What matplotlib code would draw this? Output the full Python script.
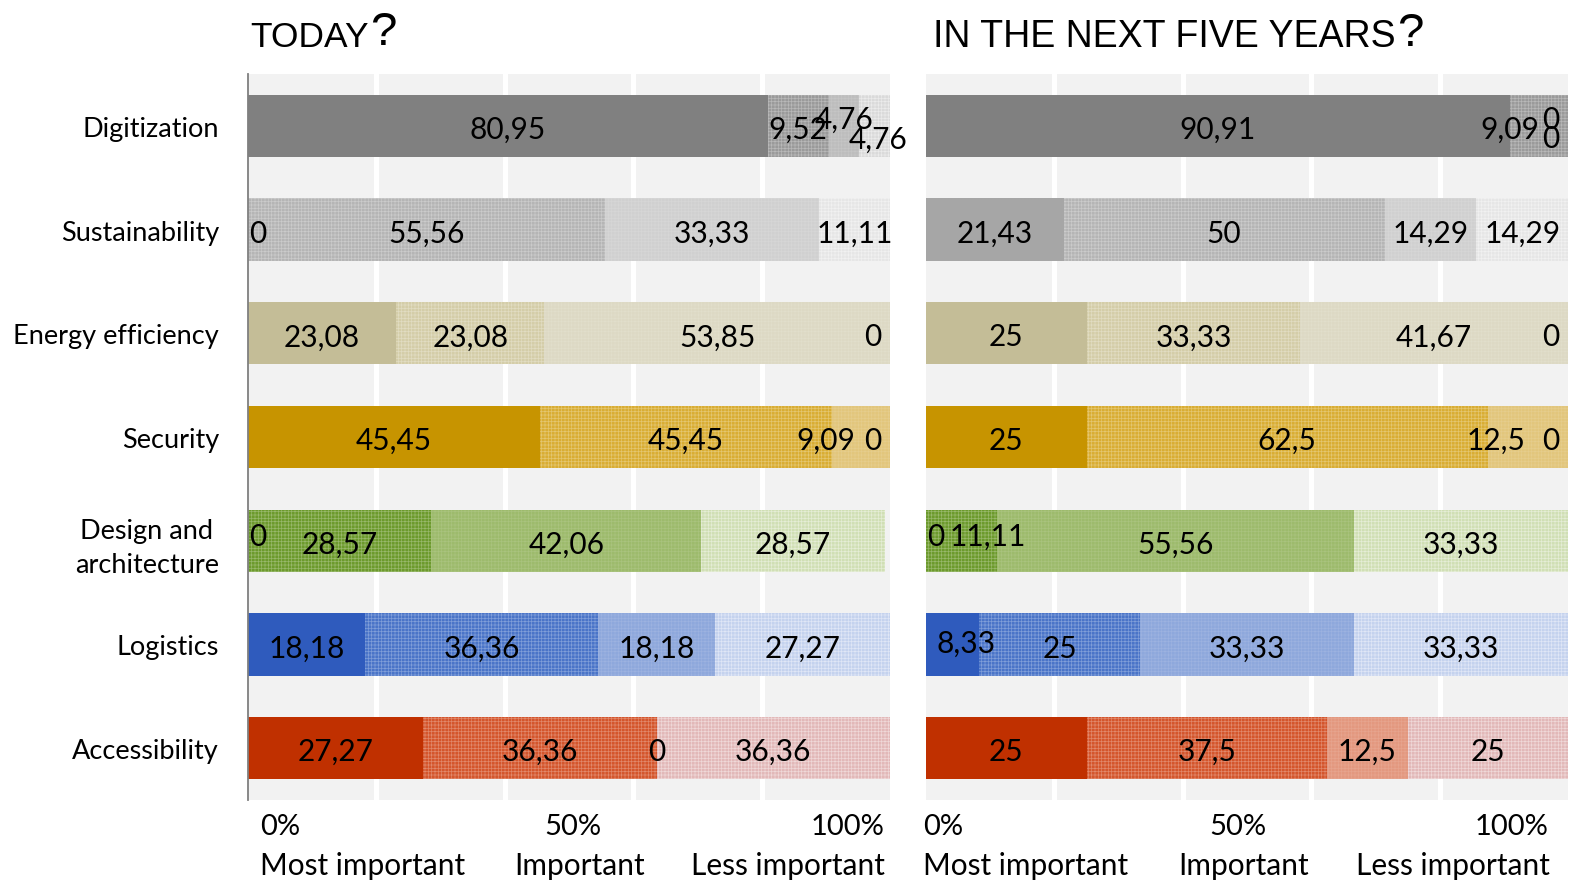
import matplotlib
matplotlib.use("Agg")
import matplotlib.pyplot as plt
import matplotlib.colors as mcolors
from matplotlib.transforms import blended_transform_factory

plt.rcParams['font.family'] = ['Lato', 'DejaVu Sans']
plt.rcParams['hatch.linewidth'] = 0.5

# ---------------- data ----------------
categories = ['Digitization', 'Sustainability', 'Energy efficiency', 'Security',
              'Design and\narchitecture', 'Logistics', 'Accessibility']

today_most      = [80.95, 0, 23.08, 45.45, 0, 18.18, 27.27]
today_important = [9.52, 55.56, 23.08, 45.45, 28.57, 36.36, 36.36]
today_third     = [4.76, 33.33, 53.85, 9.09, 42.06, 18.18, 0]
today_less      = [4.76, 11.11, 0, 0, 28.57, 27.27, 36.36]

future_most      = [90.91, 21.43, 25, 25, 0, 8.33, 25]
future_important = [9.09, 50, 33.33, 62.5, 11.11, 25, 37.5]
future_third     = [0, 14.29, 41.67, 12.5, 55.56, 33.33, 12.5]
future_less      = [0, 14.29, 0, 0, 33.33, 33.33, 25]

tick_pct = ['0%', '50%', '100%']
tick_names = ['Most important', 'Important', 'Less important']
titles = ['TODAY', 'IN THE NEXT FIVE YEARS']

# colours per category: 4 shades (segment 1..4)
palette = [
    ['#808080', '#9a9a9a', '#bdbdbd', '#dadada'],   # Digitization
    ['#a6a6a6', '#b5b5b5', '#d0d0d0', '#e6e6e6'],   # Sustainability
    ['#c4bd97', '#d4cda8', '#ddd9c4', '#e6e2d0'],   # Energy efficiency
    ['#c79400', '#d9ad33', '#e2c67c', '#e4cb85'],   # Security
    ['#4f7a1f', '#6c9a2c', '#9dbb6c', '#d0dfb4'],   # Design
    ['#2f5bbd', '#4a74c8', '#8ea8dc', '#c4d2ee'],   # Logistics
    ['#c03000', '#d4552b', '#e3987f', '#e2b8b8'],   # Accessibility
]
hatches = [None, '+++++', '+++++', '+++++']
hatch_blend = [0.0, 0.3, 0.12, 0.45]


def blend(c, amount):
    r, g, b = mcolors.to_rgb(c)
    return (r + (1 - r) * amount, g + (1 - g) * amount, b + (1 - b) * amount)


def fmt(v):
    s = ('%.2f' % v).rstrip('0').rstrip('.')
    return s.replace('.', ',')


# label tweaks (dx in %, dy in bar units) -- styling only
tweaks_today = {(0, 2): (0, -0.10), (0, 3): (0.5, 0.09),
                (3, 2): (-5.4, 0), (4, 0): (0, -0.08)}
tweaks_future = {(0, 1): (-4.5, 0), (0, 2): (0, -0.10), (0, 3): (0, 0.09),
                 (3, 2): (-5.0, 0), (4, 0): (0, -0.08), (4, 1): (4.0, -0.08),
                 (5, 0): (2.0, -0.05)}

W, H = 1576, 887
fig = plt.figure(figsize=(W / 100, H / 100), dpi=100)

ax_bottom = 1 - 801 / H
ax_height = 726 / H
axL = fig.add_axes([248 / W, ax_bottom, 642 / W, ax_height])
axR = fig.add_axes([926 / W, ax_bottom, 642 / W, ax_height])

panels = [
    (axL, [today_most, today_important, today_third, today_less], tweaks_today),
    (axR, [future_most, future_important, future_third, future_less], tweaks_future),
]

for ax, series, tweaks in panels:
    ax.set_facecolor('#f2f2f2')
    ax.set_xlim(0, 100)
    ax.set_ylim(len(categories) - 0.5, -0.5)
    ax.set_xticks([20, 40, 60, 80])
    ax.set_axisbelow(True)
    ax.xaxis.grid(True, color='white', lw=3.6)
    ax.tick_params(axis='x', length=0, labelbottom=False)
    for s in ['top', 'right', 'bottom']:
        ax.spines[s].set_visible(False)

    for i in range(len(categories)):
        left = 0.0
        for k, vals in enumerate(series):
            v = vals[i]
            base = palette[i][k]
            h = hatches[k]
            if i == 4 and k == 0:
                h = '+++++'
            ax.barh(i, v, left=left, height=0.6, color=base,
                    edgecolor=blend(base, hatch_blend[k]) if h else base,
                    hatch=h, lw=0, zorder=2)
            # label
            if v == 0 and left == 0:
                x, ha = 0.2, 'left'
            elif v == 0 and left >= 99.5:
                x, ha = 98.6, 'right'
            else:
                x, ha = left + v / 2, 'center'
            dx, dy = tweaks.get((i, k), (0, 0))
            ax.text(x + dx, i + dy + 0.03, fmt(v), ha=ha, va='center',
                    fontsize=21.5, color='black', zorder=5)
            left += v

axL.spines['left'].set_color('#7f7f7f')
axL.spines['left'].set_linewidth(1.3)
axR.spines['left'].set_visible(False)

axL.set_yticks(range(len(categories)))
axL.set_yticklabels(categories, fontsize=19.5, multialignment='center',
                    linespacing=1.45)
axL.tick_params(axis='y', length=0, pad=21)
axR.set_yticks([])
axR.tick_params(axis='y', length=0)

# bottom tick texts
y1 = 1 - 827 / H
y2 = 1 - 866 / H
pos_pct = {axL: [(0.019, 'left'), (0.506, 'center'), (0.992, 'right')],
           axR: [(-0.005, 'left'), (0.486, 'center'), (0.969, 'right')]}
pos_names = {axL: [(0.019, 'left'), (0.517, 'center'), (0.992, 'right')],
             axR: [(-0.005, 'left'), (0.494, 'center'), (0.972, 'right')]}
for ax in (axL, axR):
    tr = blended_transform_factory(ax.transAxes, fig.transFigure)
    for (x, ha), t in zip(pos_pct[ax], tick_pct):
        ax.text(x, y1, t, transform=tr, ha=ha, va='center', fontsize=21, clip_on=False)
    for (x, ha), t in zip(pos_names[ax], tick_names):
        ax.text(x, y2, t, transform=tr, ha=ha, va='center', fontsize=21.5, clip_on=False)

# titles
title_font = ['Liberation Sans Narrow', 'Liberation Sans', 'DejaVu Sans']
for x0, t, sz in zip([250, 933], titles, [25.5, 27]):
    tt = fig.text(x0 / W, 1 - 47 / H, t, fontsize=sz, family=title_font,
                  va='baseline', ha='left')
    plt.annotate('?', xy=(1, 0), xycoords=tt, xytext=(1, -1),
                 textcoords='offset points', fontsize=34, family=title_font,
                 va='bottom', ha='left', annotation_clip=False)

fig.savefig('out.png', dpi=100)
